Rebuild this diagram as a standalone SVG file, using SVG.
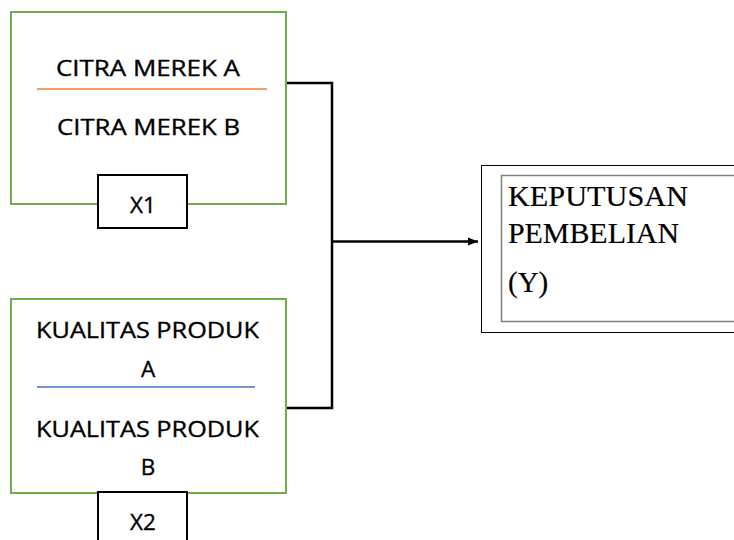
<svg xmlns="http://www.w3.org/2000/svg" width="734" height="540" viewBox="0 0 734 540">
  <style>
    .frame { fill: #ffffff; stroke: #70AD47; stroke-width: 2; }
    .tag { fill: #ffffff; stroke: #000000; stroke-width: 2; }
    .lbl { font-family: "Open Sans", "Liberation Sans", sans-serif; font-size: 22.5px; fill: #000000; stroke: #000000; stroke-width: 0.35; }
    .serif { font-family: "Liberation Serif", "Times New Roman", serif; font-size: 29px; fill: #000000; stroke: #000000; stroke-width: 0.2; }
    .wire { fill: none; stroke: #000000; stroke-width: 2.5; }
    .divider { stroke-width: 1.5; }
  </style>
  <defs>
    <marker id="arrow" markerWidth="10" markerHeight="9" refX="10" refY="4.5" orient="auto" markerUnits="userSpaceOnUse">
      <path d="M0,0.5 L10,4.5 L0,8.5 Z" fill="#000000"/>
    </marker>
  </defs>
  <rect width="734" height="540" fill="#ffffff"/>

  <g id="connectors">
    <polyline class="wire" points="286,83 332,83 332,408 286,408"/>
    <line class="wire" x1="332" y1="241.5" x2="478" y2="241.5" marker-end="url(#arrow)"/>
  </g>

  <g id="citra-merek">
    <rect class="frame" x="11" y="12" width="275" height="192"/>
    <text class="lbl" x="56" y="76" textLength="184" lengthAdjust="spacingAndGlyphs">CITRA MEREK A</text>
    <line class="divider" x1="37" y1="89" x2="267" y2="89" stroke="#ED7D31"/>
    <text class="lbl" x="57" y="135" textLength="183" lengthAdjust="spacingAndGlyphs">CITRA MEREK B</text>
    <rect class="tag" x="98" y="175" width="89" height="53"/>
    <text class="lbl" x="143" y="213" text-anchor="middle">X1</text>
  </g>

  <g id="kualitas-produk">
    <rect class="frame" x="11" y="299" width="275" height="194"/>
    <text class="lbl" x="36" y="338" textLength="223" lengthAdjust="spacingAndGlyphs">KUALITAS PRODUK</text>
    <text class="lbl" x="148" y="377" text-anchor="middle">A</text>
    <line class="divider" x1="37" y1="387" x2="255" y2="387" stroke="#4472C4"/>
    <text class="lbl" x="36" y="437" textLength="223" lengthAdjust="spacingAndGlyphs">KUALITAS PRODUK</text>
    <text class="lbl" x="148" y="475" text-anchor="middle">B</text>
    <rect class="tag" x="98" y="492" width="89" height="60"/>
    <text class="lbl" x="143" y="530" text-anchor="middle">X2</text>
  </g>

  <g id="keputusan-pembelian">
    <rect x="481.5" y="165.5" width="270" height="167" fill="#ffffff" stroke="#000000" stroke-width="1"/>
    <rect x="501.5" y="175.5" width="250" height="146" fill="none" stroke="#808080" stroke-width="1.5"/>
    <text class="serif" x="508" y="206" textLength="180" lengthAdjust="spacingAndGlyphs">KEPUTUSAN</text>
    <text class="serif" x="508" y="243" textLength="171" lengthAdjust="spacingAndGlyphs">PEMBELIAN</text>
    <text class="serif" x="508" y="292">(Y)</text>
  </g>
</svg>
